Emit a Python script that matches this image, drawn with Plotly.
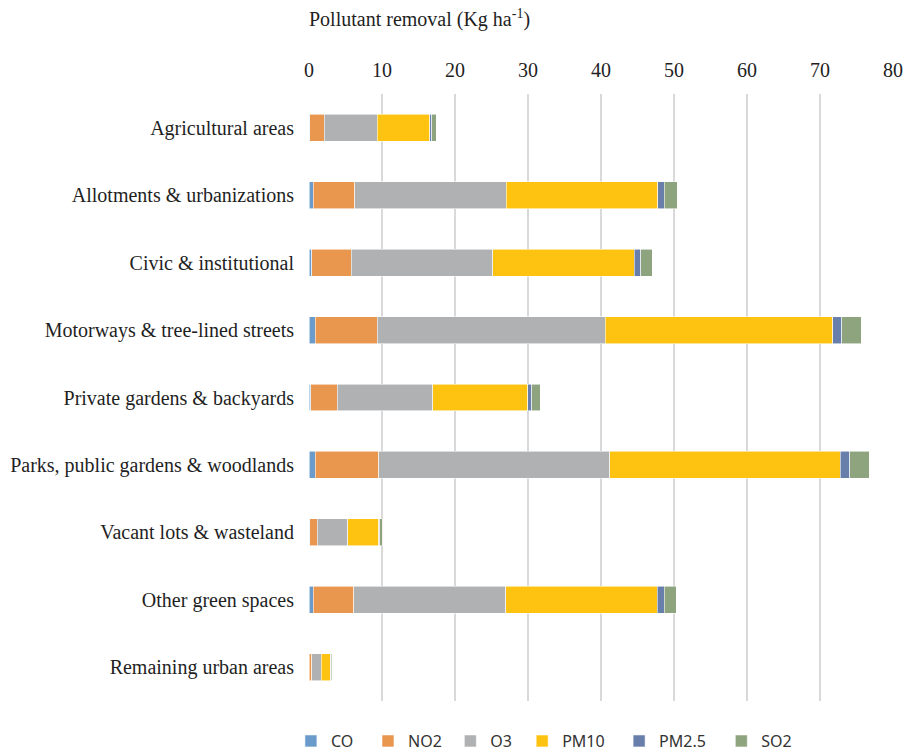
import plotly.graph_objects as go

categories = [
    "Agricultural areas",
    "Allotments & urbanizations",
    "Civic & institutional",
    "Motorways & tree-lined streets",
    "Private gardens & backyards",
    "Parks, public gardens & woodlands",
    "Vacant lots & wasteland",
    "Other green spaces",
    "Remaining urban areas",
]

co = [0.08, 0.55, 0.41, 0.86, 0.25, 0.86, 0.10, 0.55, 0.05]
no2 = [2.00, 5.75, 5.38, 8.49, 3.60, 8.66, 1.00, 5.60, 0.30]
o3 = [7.25, 20.74, 19.41, 31.24, 13.10, 31.66, 4.24, 20.79, 1.30]
pm10 = [7.20, 20.74, 19.38, 31.13, 13.00, 31.62, 4.19, 20.78, 1.25]
pm25 = [0.27, 0.87, 0.87, 1.29, 0.55, 1.29, 0.15, 0.92, 0.08]
so2 = [0.64, 1.77, 1.60, 2.64, 1.20, 2.68, 0.35, 1.68, 0.15]

series = [
    ("CO", co, "#6a9bcb"),
    ("NO2", no2, "#e9964f"),
    ("O3", o3, "#b0b1b3"),
    ("PM10", pm10, "#fec311"),
    ("PM2.5", pm25, "#687eab"),
    ("SO2", so2, "#8ea47e"),
]

# one single-entry legend per series so the entries can be spaced freely
legend_x = [-0.031, 0.101, 0.242, 0.365, 0.531, 0.706]

fig = go.Figure()
layout_legends = {}
for i, (name, vals, color) in enumerate(series):
    key = "legend" if i == 0 else f"legend{i + 1}"
    fig.add_trace(go.Bar(
        y=categories,
        x=vals,
        name=name,
        orientation="h",
        legend=key,
        marker=dict(color=color, line=dict(color="rgba(255,255,255,0.7)", width=0.8)),
    ))
    layout_legends[key] = dict(
        orientation="h",
        x=legend_x[i],
        xanchor="left",
        y=-0.066,
        yanchor="middle",
        bgcolor="rgba(0,0,0,0)",
        font=dict(family="Noto Sans", size=16, color="#333333"),
    )

fig.update_layout(
    barmode="stack",
    bargap=0.6,
    width=907,
    height=751,
    margin=dict(l=309, r=14, t=94, b=50, autoexpand=False),
    paper_bgcolor="white",
    plot_bgcolor="white",
    font=dict(family="Liberation Serif", size=20, color="#1f1f1f"),
    xaxis=dict(
        side="top",
        range=[0, 80],
        dtick=10,
        showgrid=True,
        gridcolor="#d9d9d9",
        gridwidth=2,
        zeroline=False,
        showline=False,
        ticks="",
        automargin=False,
        ticklabelstandoff=12,
        tickfont=dict(family="Liberation Serif", size=20, color="#1f1f1f"),
    ),
    yaxis=dict(
        autorange="reversed",
        showgrid=False,
        showline=False,
        ticks="",
        automargin=False,
        ticklabelstandoff=14,
        tickfont=dict(family="Liberation Serif", size=20, color="#1f1f1f"),
    ),
    showlegend=True,
    **layout_legends,
)

fig.add_annotation(
    text="Pollutant removal (Kg ha<sup>-1</sup>)",
    xref="paper", yref="paper",
    x=-0.004, y=1.0, yshift=61,
    xanchor="left", yanchor="bottom",
    showarrow=False,
    font=dict(family="Liberation Serif", size=20, color="#1f1f1f"),
)

fig.write_html("out.html")
